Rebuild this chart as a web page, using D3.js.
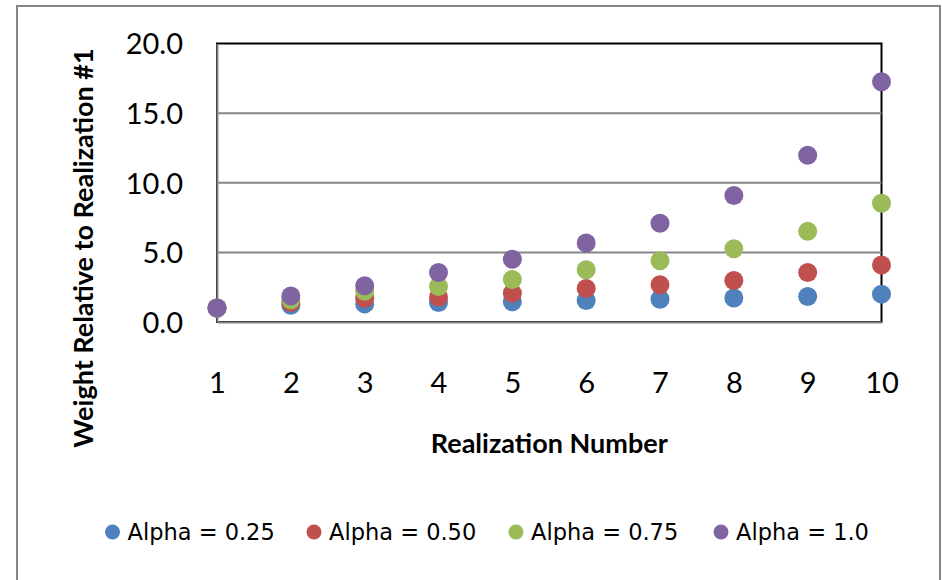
<!DOCTYPE html>
<html>
<head>
<meta charset="utf-8">
<script src="https://cdn.jsdelivr.net/npm/d3@7"></script>
<style>
  body { margin: 0; background: #fff; }
  text { font-family: Lato, "Open Sans", sans-serif; fill: #000; }
</style>
</head>
<body>
<script>
// data
const realization = [1, 2, 3, 4, 5, 6, 7, 8, 9, 10];
const alpha025 = [1.0, 1.2, 1.3, 1.4, 1.45, 1.55, 1.63, 1.73, 1.83, 2.0];
const alpha050 = [1.0, 1.4, 1.7, 1.8, 2.07, 2.4, 2.67, 2.98, 3.56, 4.1];
const alpha075 = [1.0, 1.6, 2.2, 2.55, 3.05, 3.75, 4.4, 5.26, 6.51, 8.53];
const alpha100 = [1.0, 1.87, 2.6, 3.55, 4.5, 5.67, 7.09, 9.08, 11.97, 17.25];
const seriesNames = ["Alpha = 0.25", "Alpha = 0.50", "Alpha = 0.75", "Alpha = 1.0"];
const yTicks = [0, 5, 10, 15, 20];

const colors = ["#4F81BD", "#C0504D", "#9BBB59", "#8064A2"];
const series = [alpha025, alpha050, alpha075, alpha100];

const W = 942, H = 580;
const margin = { top: 43.5, right: 60.5, bottom: 258, left: 217 };
const width = W - margin.left - margin.right;
const height = H - margin.top - margin.bottom;

const svg = d3.select("body").append("svg")
    .attr("width", W)
    .attr("height", H);

// outer chart border
svg.append("rect")
    .attr("x", 17).attr("y", 6)
    .attr("width", 923).attr("height", 600)
    .attr("fill", "none")
    .attr("stroke", "#868686")
    .attr("stroke-width", 2);

const g = svg.append("g")
    .attr("transform", "translate(" + margin.left + "," + margin.top + ")");

const x = d3.scaleLinear().domain([1, 10]).range([0, width]);
const y = d3.scaleLinear().domain([0, 20]).range([height, 0]);

// plot area border (black top/right)
g.append("rect")
    .attr("width", width).attr("height", height)
    .attr("fill", "none")
    .attr("stroke", "#000")
    .attr("stroke-width", 2);

// gridlines
g.append("g")
    .selectAll("line")
    .data(yTicks.filter(d => d > 0 && d < 20))
    .enter().append("line")
    .attr("x1", 0).attr("x2", width)
    .attr("y1", d => y(d)).attr("y2", d => y(d))
    .attr("stroke", "#868686")
    .attr("stroke-width", 2);

// y axis
const yAxis = g.append("g")
    .call(d3.axisLeft(y).tickValues(yTicks).tickFormat(d3.format(".1f")).tickSize(0).tickPadding(34));
yAxis.select(".domain").attr("stroke", "#868686").attr("stroke-width", 2);
yAxis.selectAll("text").style("font-size", "29px").attr("dy", "0.36em");

// x axis
const xAxis = g.append("g")
    .attr("transform", "translate(0," + height + ")")
    .call(d3.axisBottom(x).tickValues(realization).tickFormat(d3.format("d")).tickSize(0).tickPadding(71));
xAxis.select(".domain").attr("stroke", "#868686").attr("stroke-width", 2);
xAxis.selectAll("text").style("font-size", "29px").attr("dy", "0");

// points
series.forEach((vals, i) => {
    g.append("g")
        .selectAll("circle")
        .data(vals)
        .enter().append("circle")
        .attr("cx", (d, j) => x(realization[j]))
        .attr("cy", d => y(d))
        .attr("r", 9.5)
        .attr("fill", colors[i]);
});

// axis titles
svg.append("text")
    .attr("x", margin.left + width / 2)
    .attr("y", 453)
    .attr("text-anchor", "middle")
    .style("font-size", "27px")
    .style("font-weight", "bold")
    .text("Realization Number");

svg.append("text")
    .attr("transform", "translate(93,248) rotate(-90)")
    .attr("text-anchor", "middle")
    .style("font-size", "27px")
    .style("font-weight", "bold")
    .text("Weight Relative to Realization #1");

// legend
const legendX = [112.5, 314, 516, 721];
const legend = svg.append("g");
seriesNames.forEach((name, i) => {
    legend.append("circle")
        .attr("cx", legendX[i]).attr("cy", 532)
        .attr("r", 7.5)
        .attr("fill", colors[i]);
    legend.append("text")
        .attr("x", legendX[i] + 15)
        .attr("y", 540)
        .style("font-family", "'DejaVu Sans', sans-serif")
        .style("font-size", "22.5px")
        .text(name);
});
</script>
</body>
</html>
